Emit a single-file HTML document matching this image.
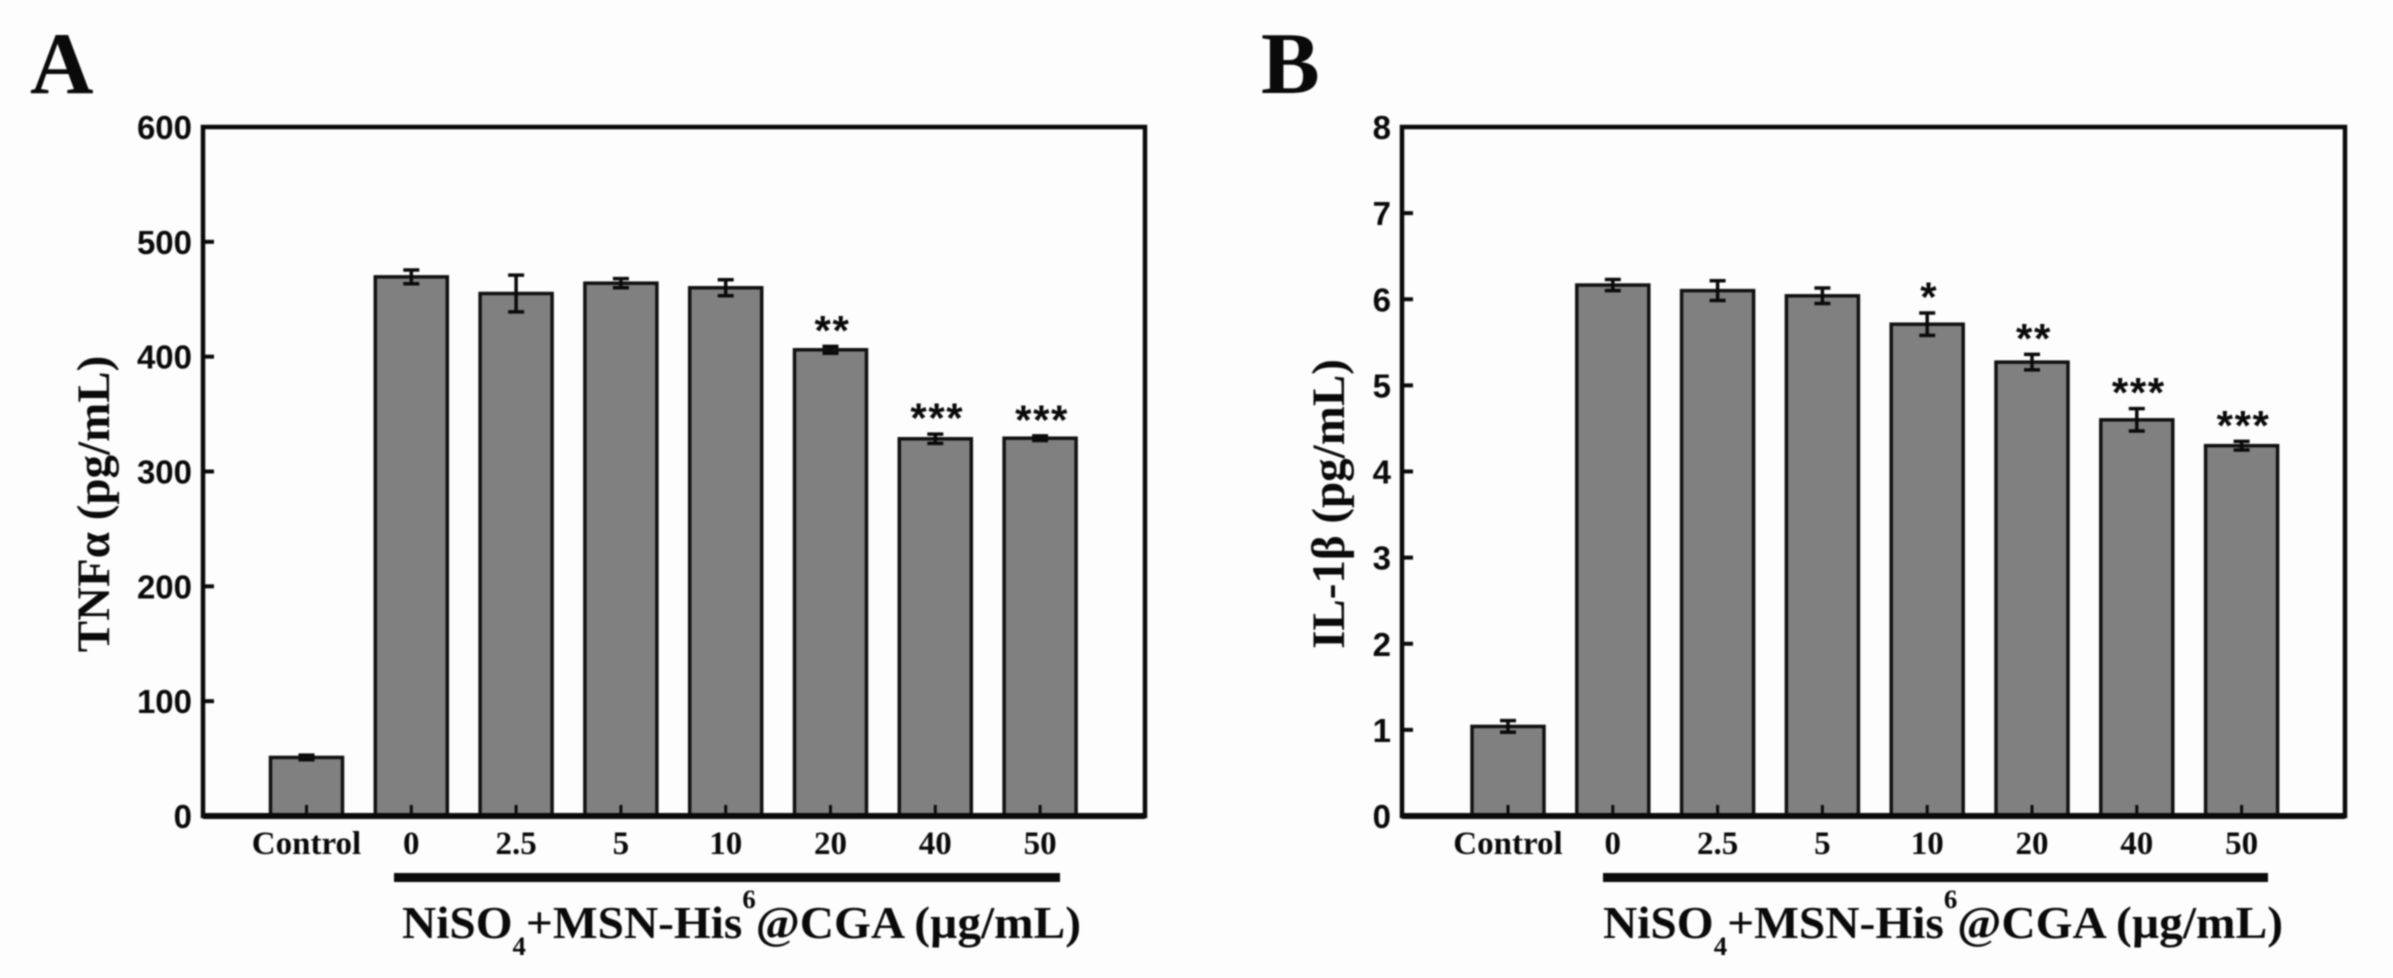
<!DOCTYPE html>
<html lang="en">
<head>
<meta charset="utf-8">
<title>TNFα and IL-1β bar charts</title>
<style>
html,body{margin:0;padding:0;background:#fdfdfd;}
svg{display:block;}
text{fill:#0a0a0a;}
.serif{font-family:"Liberation Serif",serif;font-weight:bold;}
.sans{font-family:"Liberation Sans",sans-serif;font-weight:bold;}
</style>
</head>
<body>
<svg id="figure" xmlns="http://www.w3.org/2000/svg" width="2393" height="978" viewBox="0 0 2393 978">
  <rect x="0" y="0" width="2393" height="978" fill="#fdfdfd"/>
  <g id="root" style="filter:blur(0.9px)">
    <text class="serif" x="30" y="93" font-size="88">A</text>
    <text class="serif" x="1261" y="93" font-size="88">B</text>

    <text class="serif" transform="translate(109,504) rotate(-90)" text-anchor="middle" font-size="47">TNFα (pg/mL)</text>
    <text class="serif" transform="translate(1344,504) rotate(-90)" text-anchor="middle" font-size="47">IL-1β (pg/mL)</text>

    <rect x="394" y="873" width="666" height="9" fill="#0a0a0a"/>
    <rect x="1603" y="873" width="665" height="9" fill="#0a0a0a"/>

    <text class="serif" x="402" y="938" font-size="46" textLength="679" lengthAdjust="spacingAndGlyphs">NiSO<tspan font-size="26" dy="17">4</tspan><tspan dy="-17">+MSN-His</tspan><tspan font-size="26" dy="-30">6</tspan><tspan dy="30">@CGA (µg/mL)</tspan></text>
    <text class="serif" x="1603" y="938" font-size="46" textLength="680" lengthAdjust="spacingAndGlyphs">NiSO<tspan font-size="26" dy="17">4</tspan><tspan dy="-17">+MSN-His</tspan><tspan font-size="26" dy="-30">6</tspan><tspan dy="30">@CGA (µg/mL)</tspan></text>
  </g>
</svg>
<script>
const categories = ["Control", "0", "2.5", "5", "10", "20", "40", "50"];
const tnfValues = [51, 469.5, 455, 464, 460, 406, 328.5, 329];
const tnfErrors = [2, 6, 16, 4, 7, 3, 4, 2];
const tnfSignificance = ["", "", "", "", "", "**", "***", "***"];
const tnfTicks = [0, 100, 200, 300, 400, 500, 600];
const il1bValues = [1.04, 6.165, 6.1, 6.04, 5.71, 5.27, 4.6, 4.3];
const il1bErrors = [0.067, 0.065, 0.115, 0.09, 0.13, 0.09, 0.13, 0.05];
const il1bSignificance = ["", "", "", "", "*", "**", "***", "***"];
const il1bTicks = [0, 1, 2, 3, 4, 5, 6, 7, 8];

const SVG_NS = "http://www.w3.org/2000/svg";
const INK = "#0a0a0a";
const root = document.getElementById("root");

function shape(tag, attrs, parent) {
  const el = document.createElementNS(SVG_NS, tag);
  for (const key in attrs) el.setAttribute(key, attrs[key]);
  parent.appendChild(el);
  return el;
}

function drawPanel(panel, values, errors, marks, ticks, yMax) {
  const group = shape("g", {}, root);
  
  

  const yScale = v => panel.bottom - (v / yMax) * (panel.bottom - panel.top);
  const xScale = i => panel.firstCenter + i * panel.step;

  values.forEach((value, i) => {
    const cx = xScale(i);
    const top = yScale(value);
    const bar = shape("rect", {
      x: cx - panel.barWidth / 2, y: top,
      width: panel.barWidth, height: panel.bottom - top,
      fill: "#808080", stroke: "#111111", "stroke-width": 3.5
    }, group);
    
    

    const hi = yScale(value + errors[i]);
    const lo = yScale(value - errors[i]);
    const err = shape("path", {
      d: "M" + cx + " " + hi + "V" + lo +
         "M" + (cx - 8) + " " + hi + "H" + (cx + 8) +
         "M" + (cx - 8) + " " + lo + "H" + (cx + 8),
      fill: "none", stroke: INK, "stroke-width": 3.5
    }, group);
    
    

    if (marks[i]) {
      const star = shape("text", {
        x: cx + 2, y: hi - 1.5, "text-anchor": "middle",
        "font-size": 42, "letter-spacing": 1.6, class: "sans"
      }, group);
      star.textContent = marks[i];
      
      
    }

    const tick = shape("line", {
      x1: cx, x2: cx, y1: panel.bottom - 11, y2: panel.bottom,
      stroke: INK, "stroke-width": 3
    }, group);
    
    

    const label = shape("text", {
      x: cx, y: 854, "text-anchor": "middle", "font-size": 33, class: "serif"
    }, group);
    label.textContent = categories[i];
    
    
  });

  ticks.forEach(t => {
    const y = yScale(t);
    const tick = shape("line", {
      x1: panel.left, x2: panel.left + 11, y1: y, y2: y,
      stroke: INK, "stroke-width": 4
    }, group);
    
    

    const label = shape("text", {
      x: panel.left - 11, y: y + 12, "text-anchor": "end", "font-size": 33, class: "sans"
    }, group);
    label.textContent = t;
    
    
  });

  const frame = shape("rect", {
    x: panel.left, y: panel.top,
    width: panel.right - panel.left, height: panel.bottom - panel.top,
    fill: "none", stroke: INK, "stroke-width": 4.5
  }, group);
  
  

  const baseline = shape("line", {
    x1: panel.left, x2: panel.right, y1: panel.bottom, y2: panel.bottom,
    stroke: INK, "stroke-width": 6
  }, group);
  
  
}

drawPanel(
  { id: "a", left: 203, right: 1145, top: 127, bottom: 816, firstCenter: 306.5, step: 104.8, barWidth: 72 },
  tnfValues, tnfErrors, tnfSignificance, tnfTicks, 600
);
drawPanel(
  { id: "b", left: 1402, right: 2345, top: 127, bottom: 816, firstCenter: 1508, step: 104.8, barWidth: 72 },
  il1bValues, il1bErrors, il1bSignificance, il1bTicks, 8
);
</script>
</body>
</html>
